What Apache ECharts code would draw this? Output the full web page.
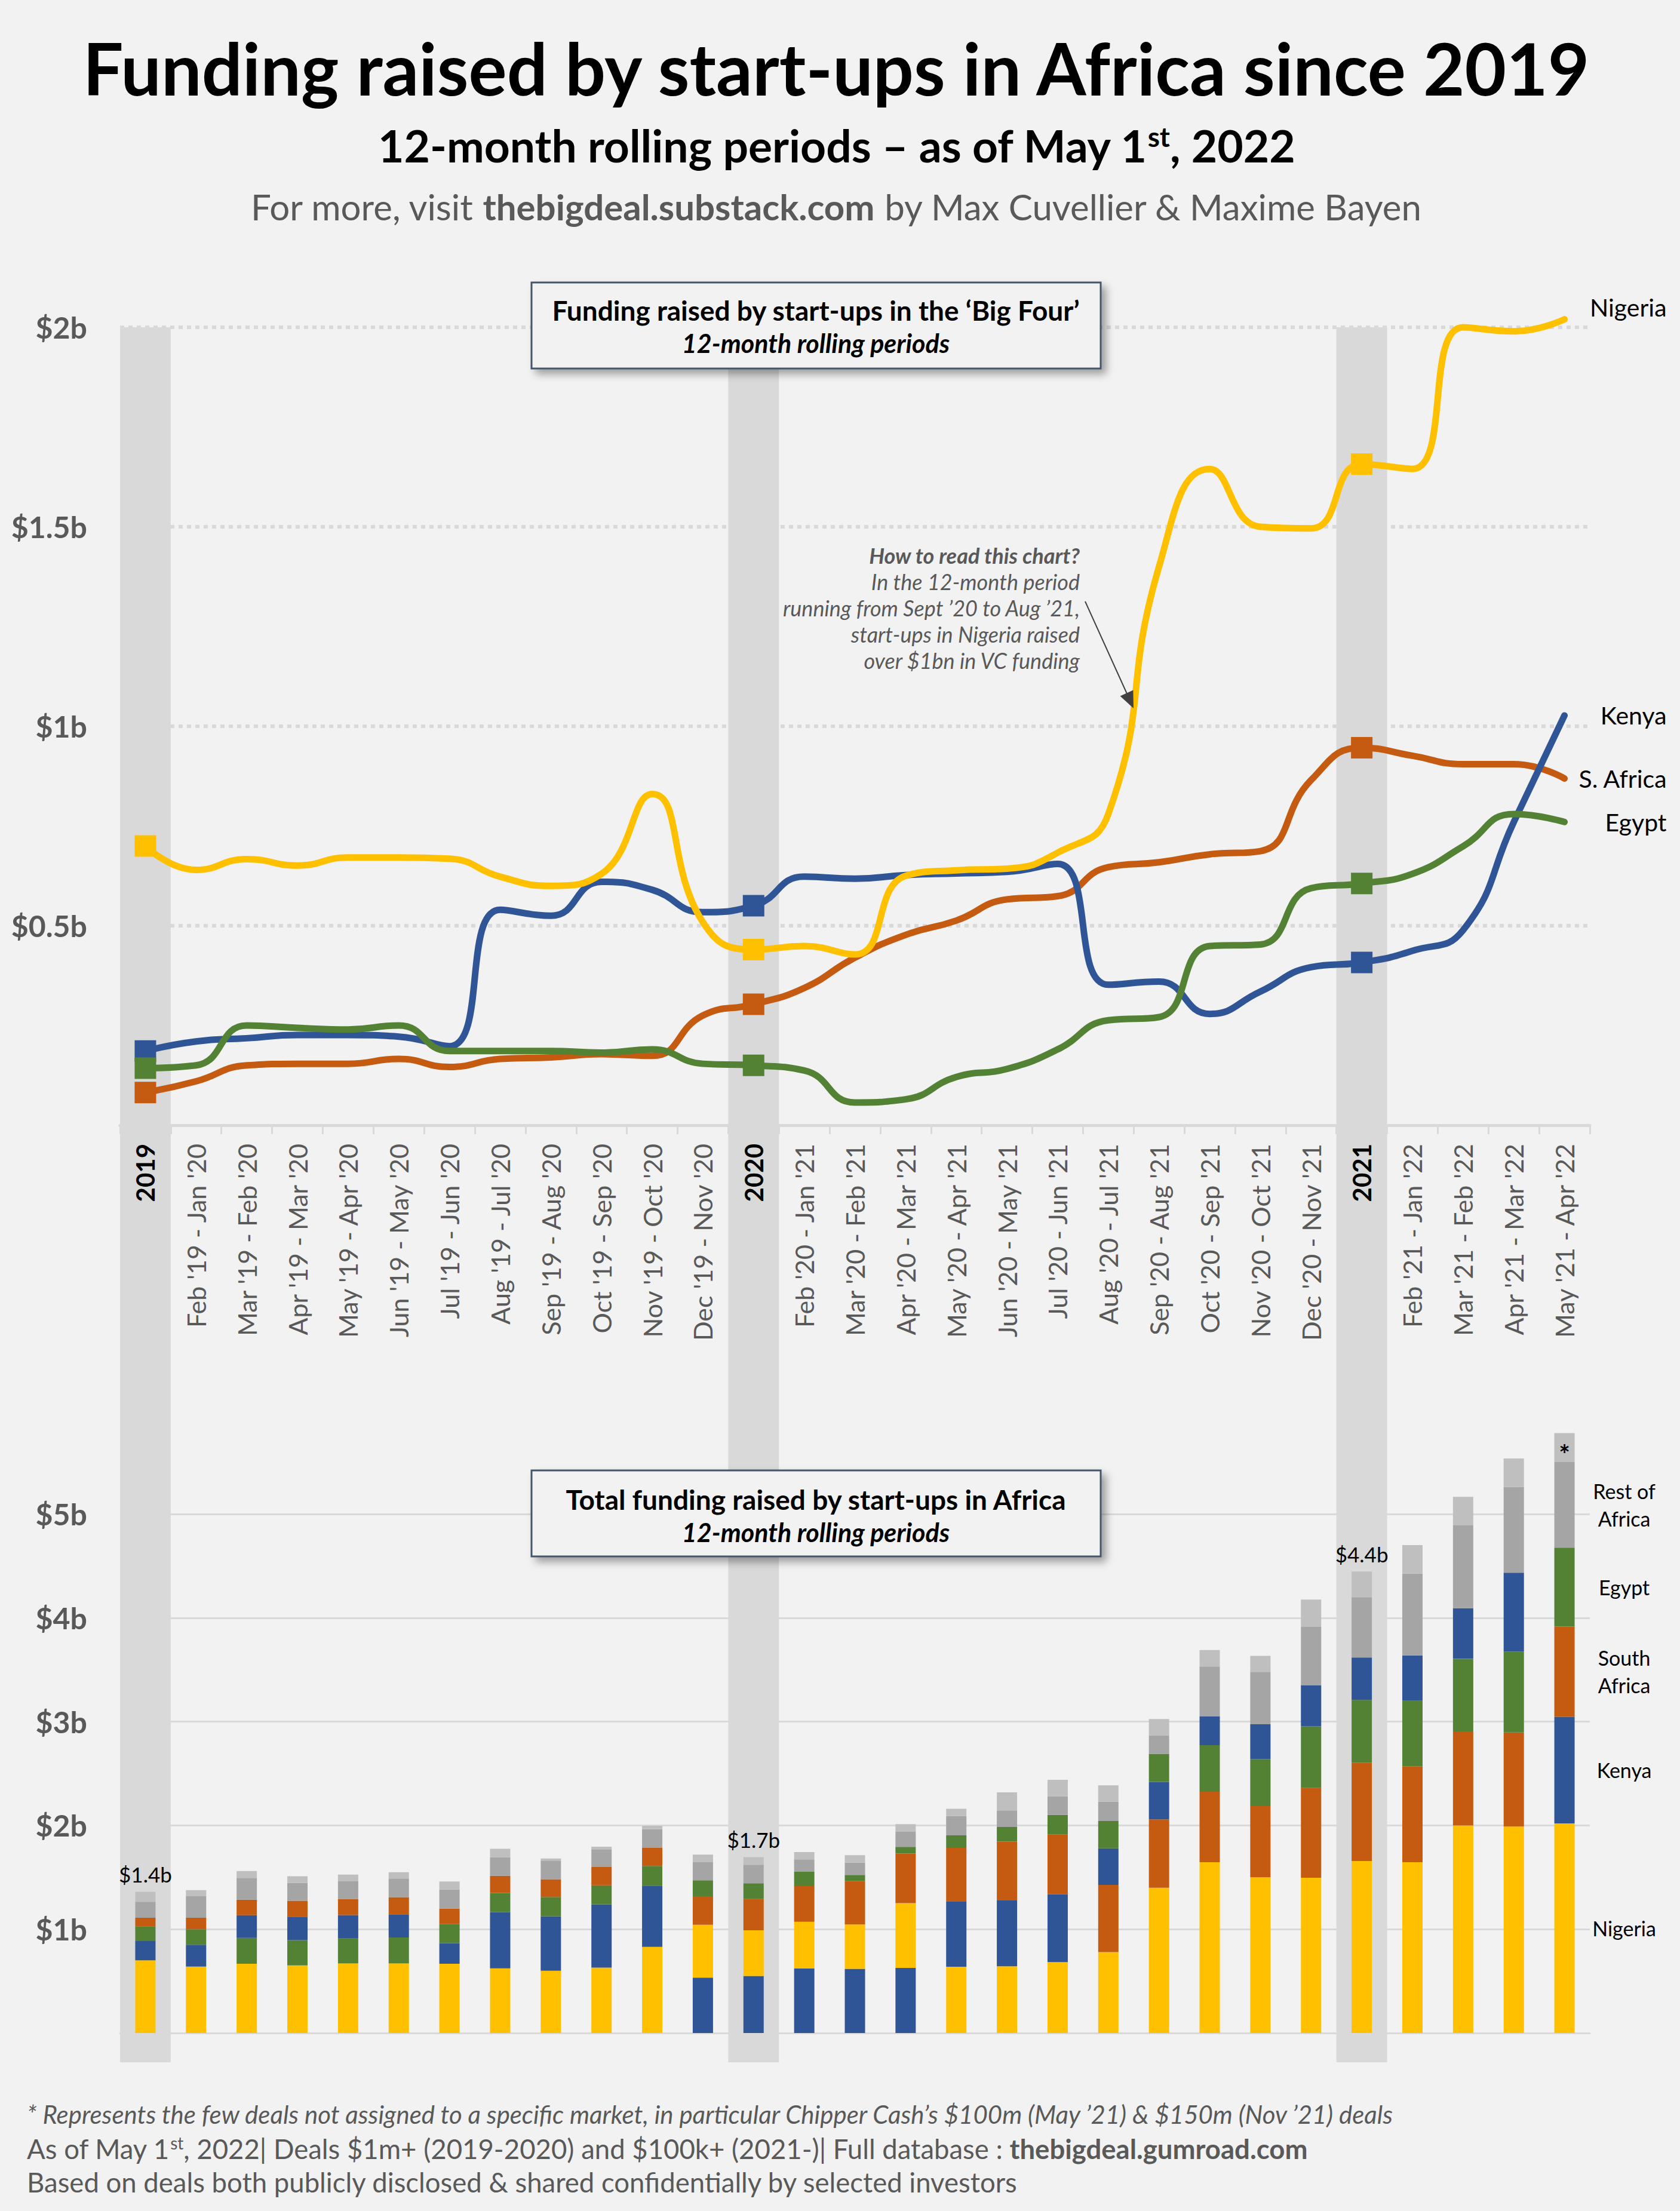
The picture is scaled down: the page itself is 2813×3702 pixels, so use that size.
<!DOCTYPE html>
<html>
<head>
<meta charset="utf-8">
<script src="https://cdn.jsdelivr.net/npm/echarts@6/dist/echarts.min.js"></script>
<style>
html,body{margin:0;padding:0;background:#f2f2f2;}
#c{width:2813px;height:3702px;}
</style>
</head>
<body>
<div id="c"></div>
<script>
// ---------------- DATA ----------------
const categories = [
  '2019', "Feb '19 - Jan '20", "Mar '19 - Feb '20", "Apr '19 - Mar '20", "May '19 - Apr '20",
  "Jun '19 - May '20", "Jul '19 - Jun '20", "Aug '19 - Jul '20", "Sep '19 - Aug '20",
  "Oct '19 - Sep '20", "Nov '19 - Oct '20", "Dec '19 - Nov '20",
  '2020', "Feb '20 - Jan '21", "Mar '20 - Feb '21", "Apr '20 - Mar '21", "May '20 - Apr '21",
  "Jun '20 - May '21", "Jul '20 - Jun '21", "Aug '20 - Jul '21", "Sep '20 - Aug '21",
  "Oct '20 - Sep '21", "Nov '20 - Oct '21", "Dec '20 - Nov '21",
  '2021', "Feb '21 - Jan '22", "Mar '21 - Feb '22", "Apr '21 - Mar '22", "May '21 - Apr '22"
];
const yearCats = ['2019', '2020', '2021'];

// values in $ billions
const nigeria     = [0.70, 0.64, 0.667, 0.651, 0.671, 0.671, 0.668, 0.623, 0.600, 0.63, 0.830, 0.509, 0.44, 0.449, 0.428, 0.625, 0.639, 0.643, 0.683, 0.78, 1.40, 1.645, 1.50, 1.496, 1.657, 1.645, 2.00, 1.99, 2.02];
const kenya       = [0.186, 0.21, 0.218, 0.226, 0.226, 0.222, 0.198, 0.54, 0.525, 0.61, 0.59, 0.534, 0.55, 0.623, 0.618, 0.627, 0.631, 0.635, 0.655, 0.352, 0.36, 0.279, 0.335, 0.396, 0.408, 0.437, 0.489, 0.76, 1.027];
const southAfrica = [0.082, 0.11, 0.15, 0.154, 0.154, 0.166, 0.146, 0.166, 0.17, 0.178, 0.174, 0.275, 0.303, 0.344, 0.42, 0.477, 0.513, 0.566, 0.574, 0.647, 0.659, 0.679, 0.687, 0.865, 0.946, 0.926, 0.905, 0.905, 0.869];
const egypt       = [0.143, 0.15, 0.25, 0.244, 0.24, 0.25, 0.186, 0.186, 0.186, 0.182, 0.19, 0.154, 0.15, 0.137, 0.057, 0.065, 0.121, 0.141, 0.19, 0.263, 0.271, 0.449, 0.453, 0.594, 0.606, 0.63, 0.699, 0.78, 0.76];
const restOfAfrica = [0.153, 0.207, 0.21, 0.17, 0.17, 0.18, 0.185, 0.18, 0.18, 0.17, 0.18, 0.174, 0.178, 0.12, 0.12, 0.145, 0.186, 0.16, 0.18, 0.186, 0.178, 0.48, 0.505, 0.562, 0.582, 0.788, 0.797, 0.825, 0.824];
const unassigned   = [0.097, 0.06, 0.065, 0.065, 0.065, 0.06, 0.077, 0.08, 0.02, 0.025, 0.033, 0.073, 0.073, 0.07, 0.07, 0.073, 0.07, 0.174, 0.157, 0.158, 0.157, 0.157, 0.154, 0.263, 0.247, 0.275, 0.275, 0.275, 0.279];

const lineTicks = [0.5, 1, 1.5, 2];
const barTicks = [1, 2, 3, 4, 5];

// ---------------- STYLE ----------------
const FONT = "Lato, 'Open Sans', 'Noto Sans', sans-serif";
const BG = '#f2f2f2';
const GREY_TXT = '#595959';
const BAND = '#d9d9d9';
const C = { Nigeria: '#ffc000', Kenya: '#2f5597', SAfrica: '#c55a11', Egypt: '#548235', Rest: '#a5a5a5', Unassigned: '#bfbfbf' };

const countries = [
  { line: 'Nigeria',   bar: 'Nigeria',       values: nigeria,     color: C.Nigeria },
  { line: 'Kenya',     bar: 'Kenya',         values: kenya,       color: C.Kenya },
  { line: 'S. Africa', bar: 'South\nAfrica', values: southAfrica, color: C.SAfrica },
  { line: 'Egypt',     bar: 'Egypt',         values: egypt,       color: C.Egypt }
];
const yearIdx = yearCats.map(c => categories.indexOf(c));
const lastIdx = categories.length - 1;
const totals = categories.map((c, i) => nigeria[i] + kenya[i] + southAfrica[i] + egypt[i] + restOfAfrica[i] + unassigned[i]);

const chart = echarts.init(document.getElementById('c'), null, { renderer: 'svg', width: 2813, height: 3702 });

// line series (draw order: S. Africa, Kenya, Egypt, Nigeria on top)
const lineOrder = [2, 1, 3, 0];
const lineSeries = lineOrder.map(k => {
  const c = countries[k];
  return {
    type: 'line', name: c.line, xAxisIndex: 0, yAxisIndex: 0,
    data: c.values, smooth: 0.5, clip: false,
    symbol: 'rect', showAllSymbol: true,
    symbolSize: (v, p) => yearIdx.includes(p.dataIndex) ? 36 : 0,
    lineStyle: { width: 11, color: c.color, cap: 'round', join: 'round' },
    itemStyle: { color: c.color },
    endLabel: {
      show: true, formatter: c.line, distance: 171, align: 'right',
      verticalAlign: c.line === 'Nigeria' ? 'bottom' : 'middle',
      fontSize: 41, color: '#000', fontFamily: FONT
    },
    emphasis: { disabled: true }
  };
});

// stacked bars sorted by size: largest country at the bottom
const rankSeries = [0, 1, 2, 3].map(r => ({
  type: 'bar', xAxisIndex: 2, yAxisIndex: 1, stack: 'total', barWidth: 34, clip: false,
  emphasis: { disabled: true },
  data: categories.map((cat, i) => {
    const sorted = countries.slice().sort((a, b) => b.values[i] - a.values[i]);
    const k = sorted[r];
    const item = { value: k.values[i], itemStyle: { color: k.color } };
    if (i === lastIdx) {
      item.label = { show: true, position: 'right', distance: 83, align: 'center',
        formatter: k.bar, fontSize: 34, lineHeight: 46, color: '#000', fontFamily: FONT };
    }
    return item;
  })
}));

const restSeries = {
  type: 'bar', xAxisIndex: 2, yAxisIndex: 1, stack: 'total', barWidth: 34, clip: false,
  emphasis: { disabled: true },
  data: restOfAfrica.map((v, i) => {
    const item = { value: v, itemStyle: { color: C.Rest } };
    if (i === lastIdx) item.label = { show: true, position: 'right', distance: 83, align: 'center',
      formatter: 'Rest of\nAfrica', fontSize: 34, lineHeight: 46, color: '#000', fontFamily: FONT };
    return item;
  })
};
const unSeries = {
  type: 'bar', xAxisIndex: 2, yAxisIndex: 1, stack: 'total', barWidth: 34, clip: false,
  emphasis: { disabled: true },
  data: unassigned.map((v, i) => {
    const item = { value: v, itemStyle: { color: C.Unassigned } };
    if (yearIdx.includes(i)) item.label = { show: true, position: 'top', distance: 12,
      formatter: '$' + totals[i].toFixed(1) + 'b', fontSize: 35, color: '#000', fontFamily: FONT };
    if (i === lastIdx) item.label = { show: true, position: 'inside', offset: [0, 10],
      formatter: '*', fontSize: 44, fontWeight: 'bold', color: '#000', fontFamily: FONT };
    return item;
  })
};

const yLabel = { fontSize: 50, fontWeight: 'bold', color: GREY_TXT, fontFamily: FONT, margin: 55 };

const option = {
  backgroundColor: BG,
  animation: false,
  textStyle: { fontFamily: FONT },
  grid: [
    { left: 201, right: 151, top: 548, bottom: 1818 },
    { left: 201, right: 151, top: 2535, bottom: 298 }
  ],
  xAxis: [
    { gridIndex: 0, type: 'category', data: categories, z: 0,
      axisLine: { lineStyle: { color: BAND, width: 5 } },
      axisTick: { show: true, interval: 0, length: 15, lineStyle: { color: BAND, width: 3 } },
      axisLabel: { show: false }, splitLine: { show: false } },
    { gridIndex: 0, type: 'category', data: categories, position: 'bottom', z: 5,
      axisLine: { show: false }, axisTick: { show: false }, splitLine: { show: false },
      axisLabel: { show: true, interval: 0, rotate: 90, margin: 31,
        formatter: v => yearCats.includes(v) ? '{y|' + v + '}' : '{m|' + v + '}',
        rich: { y: { fontWeight: 'bold', color: '#000', fontSize: 42, fontFamily: FONT },
                m: { color: GREY_TXT, fontSize: 43, fontFamily: FONT } } } },
    { gridIndex: 1, type: 'category', data: categories, z: 0,
      axisLine: { lineStyle: { color: BAND, width: 3 } }, axisTick: { show: false },
      axisLabel: { show: false }, splitLine: { show: false } }
  ],
  yAxis: [
    { gridIndex: 0, type: 'value', min: 0, max: lineTicks[lineTicks.length - 1], interval: 0.5,
      axisLine: { show: false }, axisTick: { show: false },
      splitLine: { show: true, showMinLine: false, lineStyle: { color: BAND, width: 6, type: [7, 7] } },
      axisLabel: Object.assign({}, yLabel, { formatter: v => lineTicks.includes(v) ? '$' + v + 'b' : '' }) },
    { gridIndex: 1, type: 'value', min: 0, max: barTicks[barTicks.length - 1], interval: 1,
      axisLine: { show: false }, axisTick: { show: false },
      splitLine: { show: true, showMinLine: false, lineStyle: { color: BAND, width: 3 } },
      axisLabel: Object.assign({}, yLabel, { formatter: v => barTicks.includes(v) ? '$' + v + 'b' : '' }) }
  ],
  series: lineSeries.concat(rankSeries, [restSeries, unSeries])
};
chart.setOption(option);

// ---------------- GRAPHICS (bands, boxes, texts) ----------------
function txt(x, y, text, size, opts) {
  opts = opts || {};
  return { type: 'text', z: 12, x: x, y: y, silent: true,
    style: Object.assign({ text: text, fontSize: size, fontFamily: FONT, fill: '#000',
      align: 'center', verticalAlign: 'middle' }, opts) };
}
const els = [];
const px0 = chart.convertToPixel({ seriesIndex: 0 }, [0, 0]);
const px1 = chart.convertToPixel({ seriesIndex: 0 }, [1, 0]);
const bw = px1[0] - px0[0];
const topY = chart.convertToPixel({ seriesIndex: 0 }, [0, 2])[1];
const barBase = chart.convertToPixel({ seriesIndex: 4 }, [0, 0])[1];
const botY = barBase + 49;
yearIdx.forEach(i => {
  const x = chart.convertToPixel({ seriesIndex: 0 }, [i, 0])[0];
  els.push({ type: 'rect', z: 1, silent: true, shape: { x: x - bw / 2, y: topY, width: bw, height: botY - topY }, style: { fill: BAND } });
});

// boxes
[[473, 519, 574, 'Funding raised by start-ups in the \u2018Big Four\u2019'], [2462, 2510, 2565, 'Total funding raised by start-ups in Africa']].forEach(b => {
  els.push({ type: 'rect', z: 10, silent: true, shape: { x: 890, y: b[0], width: 953, height: 144 },
    style: { fill: BG, stroke: '#44546a', lineWidth: 3, shadowBlur: 14, shadowOffsetX: 8, shadowOffsetY: 8, shadowColor: 'rgba(0,0,0,0.35)' } });
  els.push(txt(1366, b[1], b[3], 46, { fontWeight: 'bold' }));
  els.push(txt(1366, b[2], '12-month rolling periods', 43, { fontWeight: 'bold', fontStyle: 'italic' }));
});

// titles
els.push(txt(1400, 114, 'Funding raised by start-ups in Africa since 2019', 120, { fontWeight: 'bold' }));
els.push(txt(1400, 243, '{a|12-month rolling periods \u2013 as of May 1}{s|st}{a|, 2022}', 75, {
  rich: { a: { fontSize: 75, fontWeight: 'bold', fontFamily: FONT, fill: '#000' },
          s: { fontSize: 46, fontWeight: 'bold', fontFamily: FONT, fill: '#000', verticalAlign: 'top' } } }));
els.push(txt(1400, 346, '{n|For more, visit }{b|thebigdeal.substack.com}{n| by Max Cuvellier & Maxime Bayen}', 60, {
  rich: { n: { fontSize: 60, fontFamily: FONT, fill: GREY_TXT },
          b: { fontSize: 60, fontWeight: 'bold', fontFamily: FONT, fill: GREY_TXT } } }));

// annotation
const ann = ['How to read this chart?', 'In the 12-month period', 'running from Sept \u201920 to Aug \u201921,', 'start-ups in Nigeria raised', 'over $1bn in VC funding'];
ann.forEach((t, k) => {
  els.push(txt(1808, 930 + 44 * k, t, 36, { align: 'right', fill: GREY_TXT, fontStyle: 'italic', fontWeight: k === 0 ? 'bold' : 'normal' }));
});
els.push({ type: 'line', z: 12, silent: true, shape: { x1: 1817, y1: 1007, x2: 1889, y2: 1166 }, style: { stroke: '#404040', lineWidth: 2 } });
els.push({ type: 'polygon', z: 12, silent: true, shape: { points: [[1898, 1186], [1875.6, 1165.4], [1897.4, 1155.6]] }, style: { fill: '#404040' } });

// footer
els.push(txt(45, 3540, '* Represents the few deals not assigned to a specific market, in particular Chipper Cash\u2019s $100m (May \u201921) & $150m (Nov \u201921) deals', 42, { align: 'left', fill: GREY_TXT, fontStyle: 'italic' }));
els.push(txt(45, 3597, '{n|As of May 1}{s|st}{n|, 2022| Deals $1m+ (2019-2020) and $100k+ (2021-)| Full database : }{b|thebigdeal.gumroad.com}', 45.5, {
  align: 'left',
  rich: { n: { fontSize: 45.5, fontFamily: FONT, fill: GREY_TXT },
          s: { fontSize: 28, fontFamily: FONT, fill: GREY_TXT, verticalAlign: 'top' },
          b: { fontSize: 45.5, fontWeight: 'bold', fontFamily: FONT, fill: GREY_TXT } } }));
els.push(txt(45, 3653, 'Based on deals both publicly disclosed & shared confidentially by selected investors', 45.5, { align: 'left', fill: GREY_TXT }));

chart.setOption({ graphic: { elements: els } });
</script>
</body>
</html>
